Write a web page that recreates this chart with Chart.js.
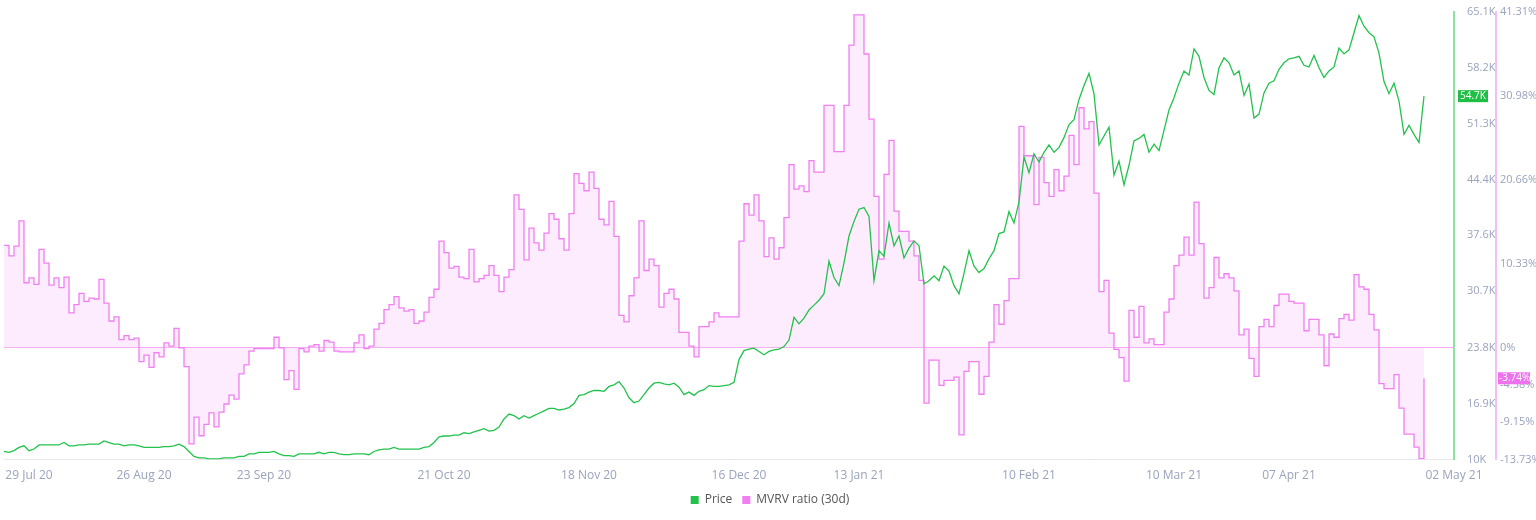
<!DOCTYPE html>
<html><head><meta charset="utf-8">
<script src="https://cdn.jsdelivr.net/npm/chart.js@4"></script>
<style>html,body{margin:0;padding:0;background:#fff}#wrap{width:1536px;height:520px;position:relative}</style>
</head><body><div id="wrap"><canvas id="c"></canvas></div>
<script>
const priceK = [
11.0,10.9,11.1,11.5,11.7,11.1,11.3,11.8,11.8,11.8,
11.8,11.8,12.1,11.7,11.7,11.8,11.8,11.9,11.9,11.9,
12.3,12.1,11.9,11.9,11.7,11.8,11.8,11.7,11.5,11.5,
11.5,11.5,11.6,11.6,11.7,11.9,11.6,11.0,10.4,10.2,
10.2,10.1,10.1,10.1,10.2,10.2,10.2,10.4,10.4,10.7,
10.7,10.9,10.9,10.9,11.0,10.7,10.5,10.5,10.4,10.7,
10.7,10.7,10.7,10.9,10.7,10.9,10.9,10.7,10.6,10.6,
10.7,
10.7,10.7,10.6,11.0,11.2,11.3,11.3,11.5,11.3,11.3,
11.3,11.3,11.3,11.5,11.6,12.1,12.8,12.9,12.9,13.0,
13.0,13.3,13.2,13.4,13.6,13.8,13.5,13.6,14.0,15.0,
15.6,15.4,15.0,15.4,15.1,15.4,15.7,16.0,16.3,16.3,
16.1,16.2,16.4,16.9,17.9,18.0,18.3,18.5,18.5,18.4,
19.0,19.2,19.6,18.8,17.6,17.0,17.2,18.0,18.8,19.4,
19.5,19.3,19.2,19.4,18.9,18.0,18.3,17.9,18.4,18.6,
19.1,19.0,
19.0,19.1,19.2,19.5,22.3,23.4,23.6,23.7,23.3,22.9,
23.3,23.5,23.6,23.9,24.7,27.5,26.7,27.4,28.4,29.0,
29.6,30.4,34.4,32.4,31.4,34.2,37.5,39.3,40.8,41.0,
39.9,32.0,35.7,35.0,39.1,36.3,37.5,34.8,36.0,36.9,
36.3,31.6,32.0,32.6,32.0,33.8,33.2,31.4,30.4,32.9,
35.7,33.8,33.0,33.5,34.7,35.7,37.8,38.0,40.5,39.1,
41.7,47.2,45.3,47.6,46.6,47.8,48.7,47.8,48.4,49.6,
51.2,51.8,54.3,56.0,57.5,55.0,48.7,49.8,50.9,45.0,
46.7,43.8,46.2,49.2,49.5,50.0,47.8,48.8,48.0,50.5,
53.0,54.5,56.3,57.8,57.3,60.5,59.6,57.0,55.4,54.9,
58.2,59.4,58.8,57.3,57.8,54.8,56.2,52.0,52.5,55.1,
56.3,56.6,58.0,58.8,59.3,59.4,59.6,58.5,58.3,59.7,
58.2,57.0,57.8,58.3,60.6,59.9,60.4,62.5,64.6,63.3,
62.5,62.0,60.0,56.5,55.0,56.3,54.1,50.0,51.1,50.0,
49.0,54.7];
const mvrvPct = [
12.6,11.3,12.5,15.6,8.0,8.6,7.8,12.1,10.4,7.7,
8.6,7.4,8.7,4.3,5.3,6.7,5.7,6.1,6.0,8.4,
5.5,3.3,3.8,1.0,1.5,1.0,1.2,-1.7,-0.9,-2.4,
-0.6,-1.1,0.6,0.2,2.4,0,-2.3,-11.8,-8.5,-10.8,
-9.4,-8.0,-9.7,-7.9,-6.9,-5.8,-6.3,-3.2,-2.1,-0.4,
-0.1,-0.1,-0.1,-0.1,1.3,0,-3.9,-2.8,-5.1,-0.1,
-0.5,0.2,0.4,-0.4,0.9,0.7,-0.4,-0.5,-0.5,-0.5,
0.6,
1.6,-0.1,0.2,2.3,3.0,4.7,5.3,6.3,4.9,4.5,
4.7,3.0,3.3,4.4,6.2,7.2,13.1,11.7,9.8,10.0,
8.7,8.5,12.1,8.1,8.5,8.9,10.1,8.9,6.9,8.7,
9.6,18.8,17.0,10.8,14.7,12.9,12.0,14.1,16.5,15.8,
13.4,12.0,16.5,21.4,20.2,19.3,21.6,19.6,15.8,15.1,
18.0,13.7,4.0,3.2,6.4,8.6,15.6,9.5,10.9,10.1,
5.0,6.7,7.2,6.0,1.9,1.9,0.2,-1.1,2.6,2.6,
3.2,4.3,
3.8,3.8,3.8,3.8,13.1,17.7,16.3,18.8,15.6,11.2,
13.5,10.9,12.3,16.0,22.5,19.5,19.9,19.2,23.0,21.6,
21.6,29.8,29.8,24.1,24.1,29.8,37.2,40.9,40.9,36.1,
28.1,18.6,10.9,21.3,25.5,16.8,14.3,14.3,13.1,11.3,
8.3,-6.8,-1.5,-1.5,-4.6,-4.0,-4.0,-3.6,-10.7,-2.9,
-1.7,-1.7,-5.7,-3.5,0.7,5.3,2.9,5.8,8.5,8.5,
27.2,23.6,23.6,17.6,23.4,20.3,18.6,21.9,19.3,21.1,
26.1,22.5,29.5,26.9,27.8,19.0,6.9,8.3,1.8,-0.2,
-1.2,-4.1,4.6,1.3,5.1,0.6,1.1,0.4,0.4,4.4,
6.0,10.1,11.4,13.6,11.4,17.9,12.8,6.1,7.4,11.1,
8.6,9.1,8.6,7.0,1.6,2.3,-1.3,-3.5,2.6,3.5,
2.6,5.2,6.6,6.6,5.7,5.5,5.5,2.1,3.5,3.5,
1.6,-2.2,1.7,1.3,3.6,4.1,3.4,9.0,7.5,7.2,
4.1,2.2,-4.4,-5.0,-5.0,-3.3,-7.4,-10.6,-10.6,-12.2,
-13.6,-3.74];
const dateTicks = {5:'29 Jul 20',28:'26 Aug 20',52:'23 Sep 20',88:'21 Oct 20',117:'18 Nov 20',147:'16 Dec 20',171:'13 Jan 21',205:'10 Feb 21',234:'10 Mar 21',257:'07 Apr 21',290:'02 May 21'};
const priceTicks = [10,16.9,23.8,30.7,37.6,44.4,51.3,58.2,65.1];
const mvrvTicks = [-13.73,-9.15,-4.58,0,10.33,20.66,30.98,41.31];

const N = 291;
const labels = [];
for (let i=0;i<N;i++) labels.push(dateTicks[i]||'');

const GREEN='#22c24c', PINK='#f27ef2', TICK='#9aa3bd';

const lastLabels = {
  id:'lastLabels',
  afterDraw(ch){
    const ctx=ch.ctx;
    const yP=ch.scales.y, yM=ch.scales.y1;
    const pv=priceK[priceK.length-1], mv=mvrvPct[mvrvPct.length-1];
    ctx.save();
    ctx.font='10px "Open Sans", sans-serif';
    ctx.textBaseline='middle';
    let py=yP.getPixelForValue(pv);
    ctx.fillStyle='#1fbf45';ctx.fillRect(yP.left+4,py-6,30,12);
    ctx.fillStyle='#fff';ctx.fillText(pv.toFixed(1)+'K',yP.left+6,py);
    let my=yM.getPixelForValue(mv);
    ctx.fillStyle='#ee72ee';ctx.fillRect(yM.left+2,my-6,32,12);
    ctx.fillStyle='#fff';ctx.fillText(mv.toFixed(2)+'%',yM.left+3,my);
    ctx.restore();
  }
};

new Chart(document.getElementById('c'),{
  type:'line',
  data:{labels,datasets:[
    {label:'Price',data:priceK,yAxisID:'y',borderColor:GREEN,backgroundColor:GREEN,borderWidth:1.3,pointRadius:0,tension:0,fill:false},
    {label:'MVRV ratio (30d)',data:mvrvPct,yAxisID:'y1',borderColor:PINK,backgroundColor:'rgba(248,200,248,0.35)',borderWidth:1.3,pointRadius:0,stepped:true,fill:{value:0}}
  ]},
  options:{
    responsive:true,maintainAspectRatio:false,animation:false,
    layout:{padding:{left:4,top:8,right:0,bottom:4}},
    plugins:{legend:{position:'bottom',labels:{boxWidth:8,boxHeight:8,color:'#555',font:{size:12,family:'"Open Sans", sans-serif'},padding:10,
      generateLabels:ch=>ch.data.datasets.map((d,i)=>({text:d.label,fillStyle:d.borderColor,strokeStyle:d.borderColor,lineWidth:0,datasetIndex:i,fontColor:'#555'}))}},tooltip:{enabled:false}},
    scales:{
      x:{type:'category',offset:false,grid:{display:false},border:{color:'#e6e8ee'},
        ticks:{autoSkip:false,maxRotation:0,color:TICK,font:{size:12,family:'"Open Sans", sans-serif'},padding:1,callback:(v,i)=>labels[i]}},
      y:{position:'right',min:10,max:65.1,grid:{display:false},border:{color:'#8fe0a3',width:2},
        afterBuildTicks:s=>{s.ticks=priceTicks.map(v=>({value:v}));},
        afterFit:s=>{s.width=42;},
        ticks:{color:TICK,font:{size:11,family:'"Open Sans", sans-serif'},padding:5,callback:v=>(+v.toFixed(1))+'K'}},
      y1:{position:'right',min:-13.73,max:41.31,border:{color:'#f7bdf7',width:2},
        grid:{drawOnChartArea:true,drawTicks:false,color:c=>c.tick&&c.tick.value===0?'#f6a8f6':'rgba(0,0,0,0)'},
        afterBuildTicks:s=>{s.ticks=mvrvTicks.map(v=>({value:v}));},
        afterFit:s=>{s.width=40;},
        ticks:{color:TICK,font:{size:11,family:'"Open Sans", sans-serif'},padding:4,callback:v=>(v===0?'0':v.toFixed(2))+'%'}}
    }
  },
  plugins:[lastLabels]
});
</script></body></html>
